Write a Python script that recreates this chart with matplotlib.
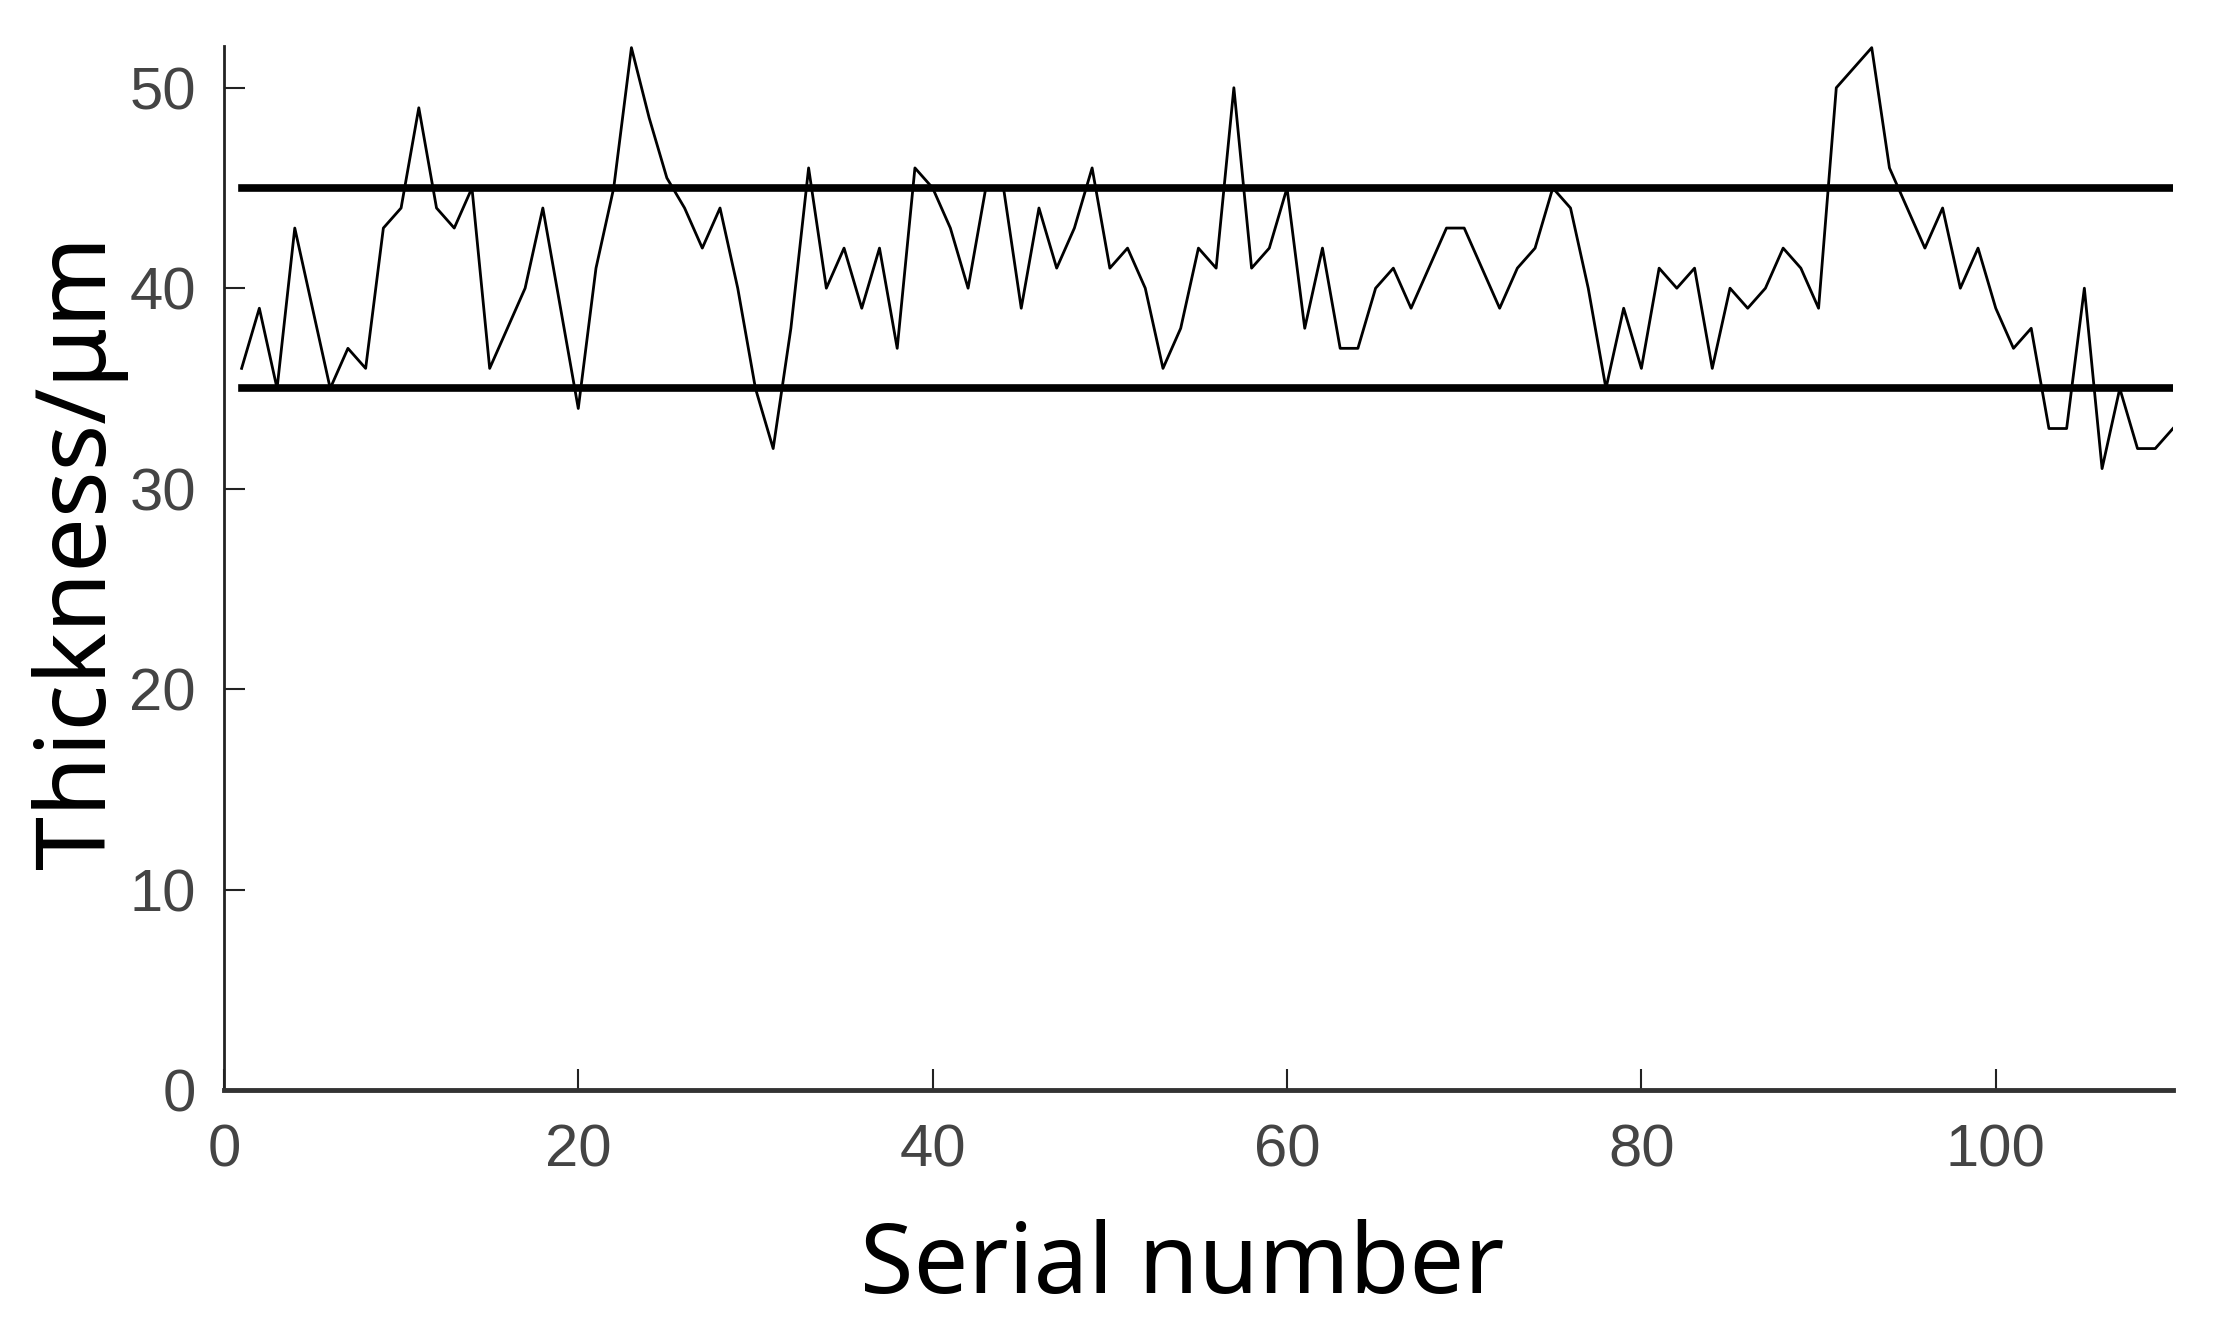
import matplotlib.pyplot as plt
import numpy as np

# thickness readings per serial number
serial = list(range(1, 111))
thickness = [36, 39, 35, 43, 39, 35, 37, 36, 43, 44,
             49, 44, 43, 45, 36, 38, 40, 44, 39, 34,
             41, 45, 52, 48.5, 45.5, 44, 42, 44, 40, 35,
             32, 38, 46, 40, 42, 39, 42, 37, 46, 45,
             43, 40, 45, 45, 39, 44, 41, 43, 46, 41,
             42, 40, 36, 38, 42, 41, 50, 41, 42, 45,
             38, 42, 37, 37, 40, 41, 39, 41, 43, 43,
             41, 39, 41, 42, 45, 44, 40, 35, 39, 36,
             41, 40, 41, 36, 40, 39, 40, 42, 41, 39,
             50, 51, 52, 46, 44, 42, 44, 40, 42, 39,
             37, 38, 33, 33, 40, 31, 35, 32, 32, 33]
upper_limit = 45
lower_limit = 35

fig = plt.figure(figsize=(22.39, 13.27), dpi=100)
ax = fig.add_axes([0.1, 0.1786, 0.8705, 0.787])

ax.plot(serial, thickness, color='black', linewidth=2.0)
ax.plot([serial[0], serial[-1]], [upper_limit, upper_limit], color='black', linewidth=5.5)
ax.plot([serial[0], serial[-1]], [lower_limit, lower_limit], color='black', linewidth=5.5)

ax.set_xlim(0, 110)
ax.set_ylim(0, 52.1)
ax.set_xticks([0, 20, 40, 60, 80, 100])
ax.set_yticks([0, 10, 20, 30, 40, 50])

ax.spines['top'].set_visible(False)
ax.spines['right'].set_visible(False)
ax.spines['left'].set_linewidth(2)
ax.spines['left'].set_color('#222222')
ax.spines['bottom'].set_linewidth(3.5)
ax.spines['bottom'].set_color('#333333')

ax.tick_params(direction='in', length=15, width=1.5, colors='#222222',
               labelcolor='#444444', labelsize=43)
ax.tick_params(axis='x', pad=24)
ax.tick_params(axis='y', pad=20)
for lab in ax.get_xticklabels() + ax.get_yticklabels():
    lab.set_fontfamily('Liberation Sans')

ax.set_xlabel('Serial number', fontsize=70, fontfamily='Noto Sans', labelpad=29)
ax.set_ylabel('Thickness/μm', fontsize=70, fontfamily='Noto Sans', labelpad=1)
ax.xaxis.label.set_x(0.4916)
ax.yaxis.label.set_y(0.515)

fig.savefig('out.png', dpi=100)
